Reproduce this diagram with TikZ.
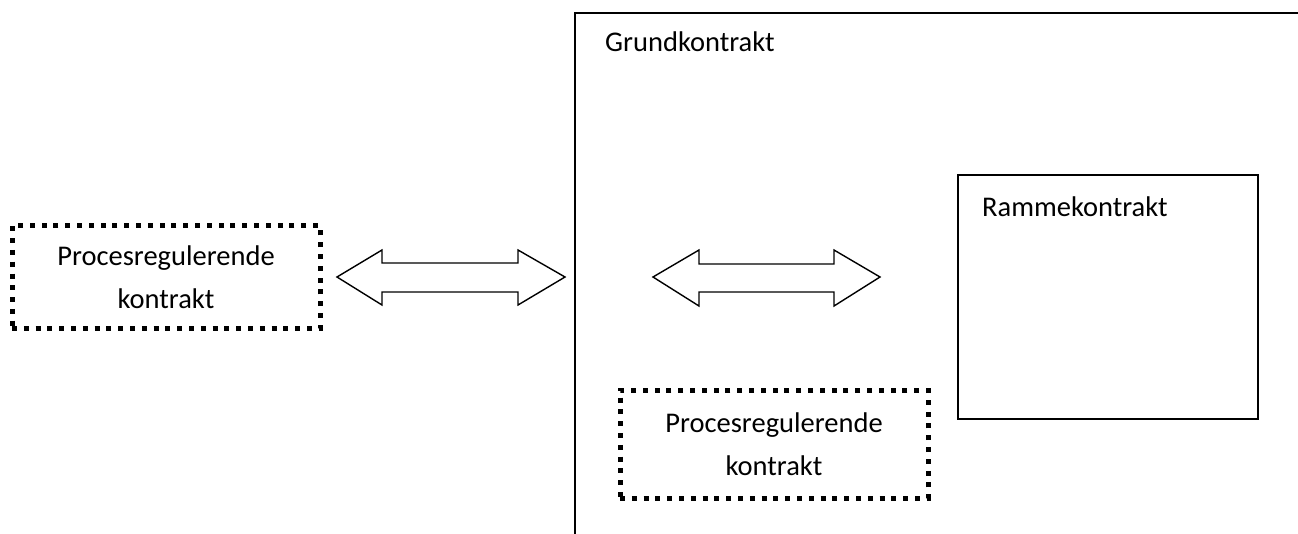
\documentclass[tikz,border=0pt]{standalone}
\usepackage{fontspec}
\setmainfont{Carlito}
\tikzset{
  dotbox/.style={draw=black, line width=5pt, dash pattern=on 5pt off 6.8pt, inner sep=0pt, align=center,
     font=\fontsize{28.5pt}{43pt}\selectfont},
  plainbox/.style={draw=black, line width=1.6pt},
  blockarrow/.style={draw=black, line width=1.4pt, fill=white, line join=miter},
  lbl/.style={anchor=base west, inner sep=0pt, font=\fontsize{28.5pt}{43pt}\selectfont},
}
\begin{document}
\begin{tikzpicture}[x=1pt,y=-1pt]
\useasboundingbox (0,0) rectangle (1298,533);
\begin{scope}
\clip (0,0) rectangle (1298,533);
% big Grundkontrakt frame (extends beyond picture)
\draw[plainbox] (575,545) -- (575,13) -- (1310,13);
\end{scope}
\node[lbl] (grund) at (605,51) {Grundkontrakt};
% Rammekontrakt box
\node[plainbox, minimum width=300pt, minimum height=244pt, inner sep=0pt] (ramme) at (1108,297) {};
\node[lbl] (rammelbl) at (982,216) {Rammekontrakt};
% dotted boxes
\node[dotbox, minimum width=308pt, minimum height=103pt] (proc1) at (166,277) {Procesregulerende\\kontrakt};
\node[dotbox, minimum width=308pt, minimum height=108pt] (proc2) at (774,444) {Procesregulerende\\kontrakt};
% double block arrows
\draw[blockarrow] (337,277) -- (382,250) -- (382,263) -- (518,263) -- (518,250) -- (565,277)
   -- (518,305) -- (518,292) -- (382,292) -- (382,305) -- cycle;
\draw[blockarrow] (653,277) -- (699,250) -- (699,264) -- (834,264) -- (834,250) -- (880,277)
   -- (834,306) -- (834,292) -- (699,292) -- (699,306) -- cycle;
\end{tikzpicture}
\end{document}
